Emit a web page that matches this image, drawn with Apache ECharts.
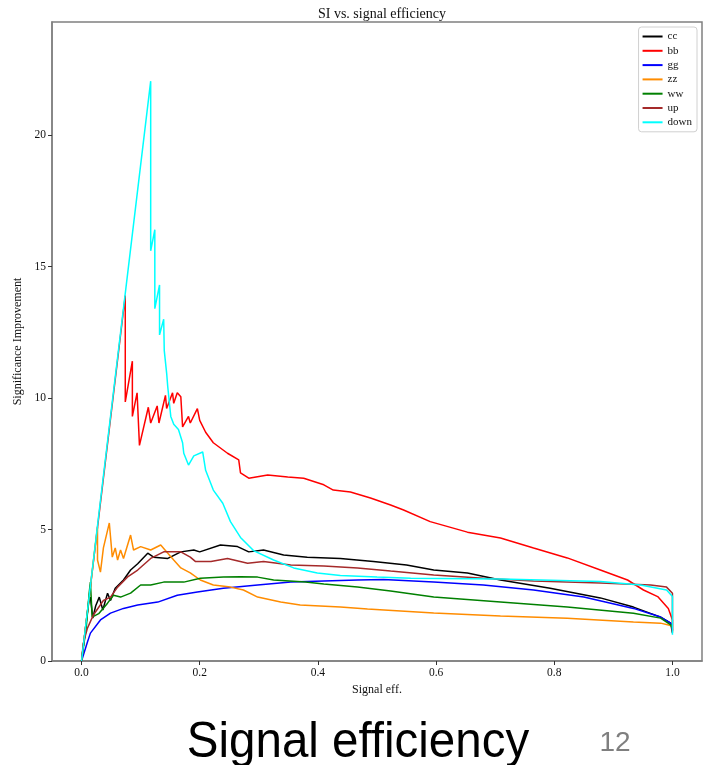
<!DOCTYPE html>
<html>
<head>
<meta charset="utf-8">
<script src="https://cdn.jsdelivr.net/npm/echarts@6/dist/echarts.min.js"></script>
<style>
html,body{margin:0;padding:0;background:#fff;}
#chart{width:706px;height:765px;}
</style>
</head>
<body>
<div id="chart"></div>
<script>
// ---- data (signal efficiency, significance improvement) ----
const seriesNames = ['cc','bb','gg','zz','ww','up','down'];
const xTicks = [0.0, 0.2, 0.4, 0.6, 0.8, 1.0];
const yTicks = [0, 5, 10, 15, 20];

const cc = [[0,0],[0.008,1.5],[0.012,2.2],[0.015,2.43],[0.019,1.63],[0.024,2.1],[0.030,2.43],[0.036,1.94],[0.044,2.58],[0.049,2.3],[0.057,2.77],[0.071,3.08],[0.083,3.46],[0.095,3.7],[0.112,4.1],[0.122,3.95],[0.146,3.9],[0.168,4.15],[0.190,4.22],[0.200,4.15],[0.235,4.41],[0.264,4.35],[0.283,4.15],[0.308,4.22],[0.342,4.03],[0.382,3.95],[0.438,3.9],[0.494,3.78],[0.55,3.65],[0.596,3.46],[0.653,3.35],[0.709,3.08],[0.793,2.77],[0.878,2.4],[0.934,2.05],[0.980,1.67],[0.997,1.44],[1.0,1.06]];

const bb = [[0,0],[0.074,13.9],[0.074,9.85],[0.086,11.4],[0.086,9.3],[0.094,10.2],[0.098,8.2],[0.113,9.65],[0.117,9.05],[0.128,9.7],[0.131,9.05],[0.142,10.1],[0.144,9.6],[0.154,10.2],[0.156,9.8],[0.162,10.2],[0.168,10.05],[0.171,8.9],[0.181,9.3],[0.184,9.05],[0.196,9.6],[0.2,9.15],[0.210,8.7],[0.223,8.3],[0.247,7.9],[0.266,7.65],[0.269,7.15],[0.283,6.95],[0.315,7.07],[0.349,7.0],[0.376,6.95],[0.41,6.7],[0.426,6.5],[0.455,6.43],[0.489,6.2],[0.523,5.93],[0.545,5.74],[0.59,5.3],[0.653,4.9],[0.709,4.68],[0.765,4.3],[0.822,3.92],[0.878,3.46],[0.924,3.08],[0.951,2.7],[0.975,2.45],[0.993,2.0],[1.0,1.56],[1.0,1.15]];

const gg = [[0,0],[0.01,0.72],[0.015,1.06],[0.032,1.56],[0.049,1.82],[0.071,2.0],[0.095,2.13],[0.129,2.24],[0.162,2.5],[0.196,2.62],[0.240,2.77],[0.298,2.89],[0.354,3.0],[0.41,3.04],[0.467,3.08],[0.511,3.1],[0.596,3.0],[0.68,2.89],[0.765,2.7],[0.85,2.43],[0.934,2.0],[0.98,1.67],[0.997,1.44],[1.0,1.2]];

const zz = [[0,0],[0.027,5.1],[0.027,3.84],[0.032,3.38],[0.037,4.3],[0.047,5.25],[0.052,3.95],[0.057,4.3],[0.061,3.84],[0.066,4.22],[0.071,3.9],[0.083,4.79],[0.088,4.22],[0.100,4.35],[0.117,4.22],[0.134,4.41],[0.146,4.1],[0.156,3.84],[0.168,3.54],[0.184,3.35],[0.201,3.08],[0.223,2.89],[0.252,2.81],[0.274,2.7],[0.298,2.43],[0.337,2.24],[0.37,2.13],[0.438,2.05],[0.484,1.98],[0.596,1.83],[0.709,1.71],[0.822,1.63],[0.934,1.48],[0.98,1.44],[1.0,1.33]];

const ww = [[0,0],[0.008,1.3],[0.013,2.6],[0.015,3.0],[0.018,1.67],[0.029,1.8],[0.044,2.2],[0.054,2.5],[0.066,2.43],[0.083,2.58],[0.100,2.89],[0.117,2.89],[0.139,3.0],[0.173,3.0],[0.201,3.15],[0.240,3.19],[0.269,3.2],[0.298,3.19],[0.325,3.08],[0.379,3.0],[0.41,2.93],[0.467,2.81],[0.523,2.66],[0.596,2.43],[0.709,2.24],[0.822,2.05],[0.934,1.82],[0.98,1.63],[0.997,1.37],[1.0,1.25]];

const up = [[0,0],[0.003,0.68],[0.01,1.25],[0.02,1.75],[0.037,2.3],[0.049,2.43],[0.061,2.81],[0.078,3.2],[0.095,3.46],[0.117,3.9],[0.139,4.15],[0.168,4.15],[0.184,3.95],[0.193,3.78],[0.219,3.78],[0.247,3.9],[0.281,3.72],[0.308,3.78],[0.354,3.65],[0.41,3.61],[0.467,3.54],[0.523,3.42],[0.596,3.27],[0.68,3.15],[0.765,3.04],[0.878,2.97],[0.963,2.89],[0.99,2.81],[1.0,2.58],[1.0,1.1]];

const down = [[0,0],[0.032,6.1],[0.117,22.05],[0.117,15.6],[0.124,16.4],[0.124,13.4],[0.132,14.3],[0.132,12.4],[0.139,13.0],[0.140,11.8],[0.144,10.95],[0.146,10.4],[0.151,9.3],[0.156,9.0],[0.164,8.8],[0.171,8.3],[0.173,7.9],[0.181,7.45],[0.190,7.8],[0.205,7.95],[0.210,7.25],[0.223,6.5],[0.239,6.0],[0.252,5.3],[0.269,4.7],[0.291,4.2],[0.325,3.84],[0.359,3.54],[0.399,3.35],[0.438,3.25],[0.50,3.19],[0.557,3.15],[0.709,3.12],[0.878,3.02],[0.946,2.89],[0.99,2.7],[1.0,2.45],[1.0,1.0]];

const seriesData = [cc, bb, gg, zz, ww, up, down];
const colors = ['#000000','#ff0000','#0000ff','#ff8c00','#008000','#a52a2a','#00ffff'];

const serif = '"Liberation Serif", "DejaVu Serif", serif';
const sans = '"Liberation Sans", Arial, sans-serif';

const chart = echarts.init(document.getElementById('chart'), null, {renderer: 'canvas'});
chart.setOption({
  animation: false,
  backgroundColor: '#ffffff',
  title: {
    text: 'SI vs. signal efficiency',
    left: 377, top: 2, textAlign: 'center',
    textStyle: {fontFamily: serif, fontSize: 14, fontWeight: 'normal', color: '#111'}
  },
  grid: {left: 52, right: 4, top: 22, bottom: 104, show: true, borderColor: '#808080', borderWidth: 1.5, backgroundColor: '#fff'},
  legend: {
    data: seriesNames,
    orient: 'vertical',
    right: 9, top: 27,
    icon: 'rect',
    itemWidth: 20, itemHeight: 2,
    itemGap: 3.3,
    padding: [4, 5, 4, 4],
    backgroundColor: '#fff',
    borderColor: '#d0d0d0', borderWidth: 1, borderRadius: 3,
    textStyle: {fontFamily: serif, fontSize: 11, color: '#111', lineHeight: 11}
  },
  xAxis: {
    type: 'value', min: -0.05, max: 1.05,
    name: 'Signal eff.', nameLocation: 'middle', nameGap: 17,
    nameTextStyle: {fontFamily: serif, fontSize: 12, color: '#111'},
    axisLine: {show: true, onZero: false, lineStyle: {color: '#808080', width: 1.5}},
    axisTick: {show: true, length: 4, inside: false, customValues: xTicks, lineStyle: {color: '#333'}},
    axisLabel: {customValues: xTicks, margin: 6, fontFamily: serif, fontSize: 11.5, color: '#111', formatter: v => v.toFixed(1)},
    splitLine: {show: false}
  },
  yAxis: {
    type: 'value', min: 0, max: 24.3,
    name: 'Significance Improvement', nameLocation: 'middle', nameGap: 26,
    nameTextStyle: {fontFamily: serif, fontSize: 12, color: '#111'},
    axisLine: {show: true, onZero: false, lineStyle: {color: '#808080', width: 1.5}},
    axisTick: {show: true, length: 4, customValues: yTicks, lineStyle: {color: '#333'}},
    axisLabel: {customValues: yTicks, margin: 6, fontFamily: serif, fontSize: 11.5, color: '#111', formatter: v => String(v)},
    splitLine: {show: false}
  },
  graphic: [
    {type: 'text', x: 358, y: 768, scaleX: 0.95, originX: 0, originY: 0,
     style: {text: 'Signal efficiency', fontFamily: sans, fontSize: 50, fill: '#000', textAlign: 'center', textVerticalAlign: 'bottom'}},
    {type: 'text', x: 615, y: 757, style: {text: '12', fontFamily: sans, fontSize: 28, fill: '#7f7f7f', textAlign: 'center', textVerticalAlign: 'bottom'}}
  ],
  series: seriesNames.map((n, i) => ({
    name: n, type: 'line', data: seriesData[i],
    showSymbol: false, symbol: 'none',
    color: colors[i],
    lineStyle: {color: colors[i], width: 1.5},
    itemStyle: {color: colors[i]},
    z: 2 + i
  }))
});
</script>
</body>
</html>
